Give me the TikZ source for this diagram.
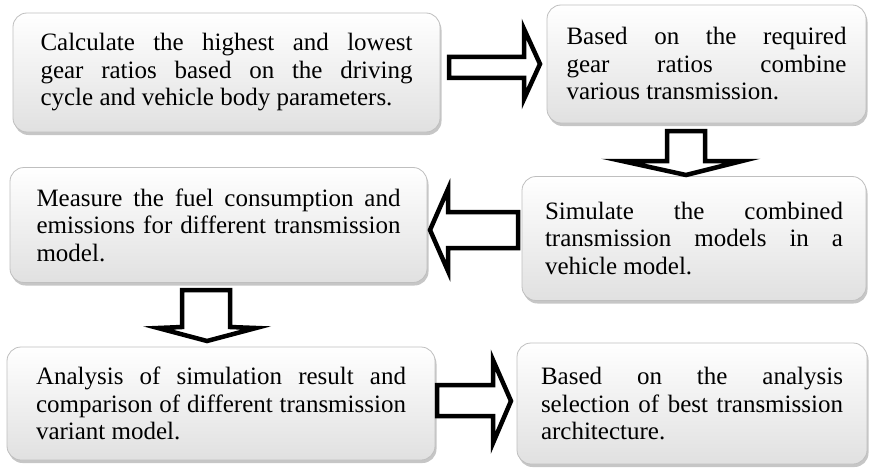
\documentclass[tikz,border=0pt]{standalone}
\usepackage{fontspec}
\setmainfont{Liberation Serif}
\usetikzlibrary{shadows}
\begin{document}
\begin{tikzpicture}[x=1pt,y=-1pt,
  box/.style={draw=black!25, line width=0.8pt, rounded corners=14pt,
    top color=white, bottom color=black!12,
    drop shadow={shadow xshift=1.5pt, shadow yshift=-3pt, fill=black!50, opacity=0.45},
    align=justify, inner sep=0pt,
    font=\fontsize{25}{27.5}\selectfont},
  blockarrow/.style={draw=black, line width=4.5pt, fill=white, line join=miter, miter limit=10}]
\useasboundingbox (0,0) rectangle (869,468);

\node[box, minimum width=427pt, minimum height=119pt, text width=372pt] (b1) at (226.5,72.5)
  {Calculate the highest and lowest\linebreak gear ratios based on the driving\linebreak cycle and vehicle body parameters.};
\node[box, minimum width=319pt, minimum height=118pt, text width=280pt] (b2) at (706.5,64)
  {Based on the required\linebreak gear ratios combine\linebreak various transmission.};
\node[box, minimum width=417pt, minimum height=115pt, text width=364pt] (b3) at (218.5,225)
  {Measure the fuel consumption and\linebreak emissions for different transmission\linebreak model.};
\node[box, minimum width=344pt, minimum height=124pt, text width=298pt] (b4) at (694,238.5)
  {Simulate the combined\linebreak transmission models in a\linebreak vehicle model.};
\node[box, minimum width=428pt, minimum height=113pt, text width=370pt] (b5) at (221,403.5)
  {Analysis of simulation result and\linebreak comparison of different transmission\linebreak variant model.};
\node[box, minimum width=350pt, minimum height=121pt, text width=302pt] (b6) at (692,403.5)
  {Based on the analysis\linebreak selection of best transmission\linebreak architecture.};

% block arrows
\draw[blockarrow] (449,57) -- (524,57) -- (524,29) -- (540,64) -- (524,99) -- (524,78) -- (449,78) -- cycle;
\draw[blockarrow] (667,131) -- (667,161) -- (622,161) -- (686,175) -- (742,161) -- (705,161) -- (705,131) -- cycle;
\draw[blockarrow] (518,212) -- (448,212) -- (448,189) -- (430,230) -- (448,271) -- (448,248) -- (518,248) -- cycle;
\draw[blockarrow] (182,290) -- (182,327) -- (158,328) -- (207,341) -- (256,328) -- (230,327) -- (230,290) -- cycle;
\draw[blockarrow] (437,385) -- (493,385) -- (493,360) -- (511,401) -- (493,443) -- (493,416) -- (437,416) -- cycle;
\end{tikzpicture}
\end{document}
